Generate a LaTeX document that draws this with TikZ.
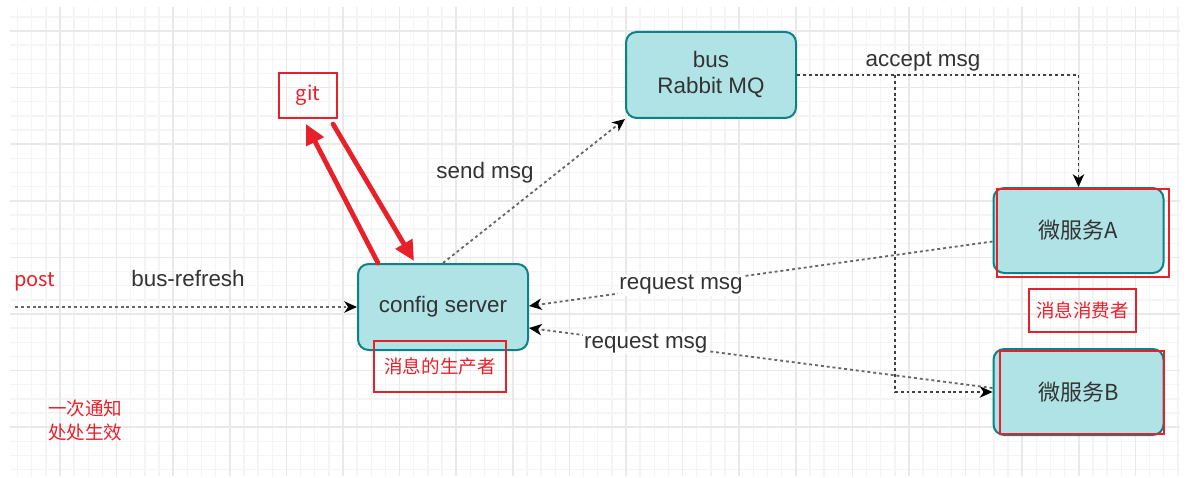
\documentclass[tikz,border=0pt]{standalone}
\usepackage{fontspec}
\setmainfont{Liberation Sans}
\newfontfamily\cjk{Noto Sans CJK SC}
\usetikzlibrary{arrows.meta,calc}
\definecolor{boxfill}{HTML}{B0E3E6}
\definecolor{boxline}{HTML}{0E8088}
\definecolor{txt}{HTML}{333333}
\definecolor{myred}{HTML}{E8202A}
\definecolor{gridmajor}{HTML}{E9E9E9}
\definecolor{gridminor}{HTML}{F4F4F4}
\definecolor{conn}{HTML}{404040}
\definecolor{connlight}{HTML}{666666}
\begin{document}
\begin{tikzpicture}[x=0.75pt,y=-0.75pt,
  svc/.style={draw=boxline, fill=boxfill, line width=1.5pt, rounded corners=8pt,
    minimum width=127.5pt, minimum height=64.5pt, inner sep=0pt, text=txt,
    font=\fontsize{16.8}{19.5}\selectfont, align=center},
  redbox/.style={draw=myred, line width=1.5pt, inner sep=0pt},
  redtxt/.style={text=myred, font=\cjk\fontsize{13.9}{18}\selectfont, inner sep=0pt},
  lbl/.style={text=txt, font=\fontsize{16.8}{19.5}\selectfont, inner sep=1pt},
  dotarrow/.style={draw=conn, line width=1.35pt, dash pattern=on 2.2pt off 2.2pt,
    -{Stealth[length=9.5pt,width=8.5pt,inset=2.8pt,color=black]}},
  gitarrow/.style={draw=myred, line width=3.6pt, line cap=round,
    -{Triangle[length=15pt,width=14pt]}},
  minorline/.style={draw=gridminor, line width=1pt},
  majorline/.style={draw=gridmajor, line width=1.3pt}
]
\useasboundingbox (0,0) rectangle (1189,478);
\fill[white] (0,0) rectangle (1189,478);
% grid
\foreach \i in {1,...,83} {\draw[minorline] ({3.4+14.15*\i},7) -- ({3.4+14.15*\i},476);}
\foreach \i in {1,...,33} {\draw[minorline] (10,{2.7+14.15*\i}) -- (1180,{2.7+14.15*\i});}
\foreach \i in {1,...,20} {\draw[majorline] ({3.4+56.6*\i},7) -- ({3.4+56.6*\i},476);}
\foreach \i in {1,...,8} {\draw[majorline] (10,{-25.6+56.6*\i}) -- (1180,{-25.6+56.6*\i});}

% service boxes
\node[svc] (mq) at (711,75) {bus\\Rabbit MQ};
\node[svc] (cs) at (443,307) {config server};
\node[svc, minimum height=63.75pt, font=\cjk\fontsize{16.5}{19}\selectfont] (A) at (1078.5,230.5) {微服务A};
\node[svc, font=\cjk\fontsize{16.5}{19}\selectfont] (B) at (1078.5,392) {微服务B};

% red boxes
\node[redbox, minimum width=129pt, minimum height=66pt] (Ared) at (1083,233) {};
\node[redbox, minimum width=123pt, minimum height=62.25pt] (Bred) at (1082,392.5) {};
\node[redbox, redtxt, font=\cjk\fontsize{15}{18}\selectfont, minimum width=43.5pt, minimum height=33.75pt] (git) at (308,95.5) {git};
\node[redbox, redtxt, minimum width=99pt, minimum height=38.25pt] (producer) at (440,366.5) {消息的生产者};
\node[redbox, redtxt, minimum width=80.25pt, minimum height=32.25pt] (consumer) at (1082.5,310.5) {消息消费者};

% free labels
\node[redtxt, font=\cjk\fontsize{15}{18}\selectfont] (post) at (34.5,282) {post};
\node[lbl] (busrefresh) at (188,278) {bus-refresh};
\node[lbl] (sendmsg) at (485,173) {send msg};
\node[lbl] (acceptmsg) at (923,62) {accept msg};
\node[redtxt, align=left, anchor=west] (note) at (48,420) {一次通知\\处处生效};

% connectors
\coordinate (postStart) at (15,307);
\draw[dotarrow, draw=connlight] (postStart) -- (cs.west);
\draw[dotarrow, draw=connlight] (cs.north) -- (mq.south west);
\draw[dotarrow] (mq.east) -| (A.north);
\coordinate (branch) at (895,75);
\draw[dotarrow] (branch) |- (B.west);
\draw[dotarrow, draw=connlight] ($(A.west)+(0,11)$) -- node[pos=0.672, lbl, fill=white] (rq1) {request msg} ($(cs.east)+(0,-1)$);
\draw[dotarrow, draw=connlight] ($(B.west)+(0,-4)$) -- node[pos=0.748, lbl, fill=white] (rq2) {request msg} ($(cs.east)+(0,21)$);

% git arrows
\draw[gitarrow] ($(cs.north west)+(21,0)$) -- ($(git.south)+(-2,5)$);
\draw[gitarrow] ($(git.south)+(25,5)$) -- ($(cs.north west)+(57,-2)$);
\end{tikzpicture}
\end{document}
